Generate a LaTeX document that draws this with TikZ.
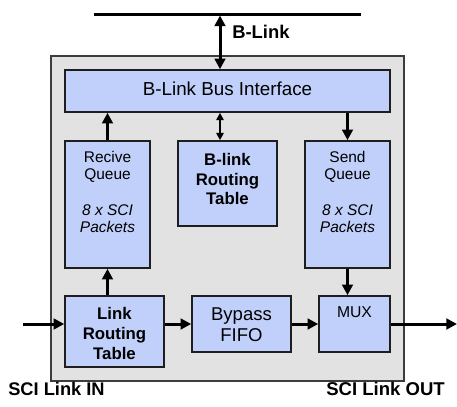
\documentclass[tikz,border=0pt]{standalone}
\usepackage{fontspec}
\setmainfont{Liberation Sans}
\usetikzlibrary{arrows.meta}
\definecolor{boxblue}{RGB}{192,208,250}
\definecolor{bggray}{RGB}{226,226,226}
\definecolor{edge}{RGB}{30,30,30}
\tikzset{
  blk/.style={draw=edge, line width=1.2pt, fill=boxblue, inner sep=0pt},
  txt/.style={inner sep=0pt, align=center},
  flow/.style={line width=2.25pt, -{Triangle[length=8pt,width=8pt]}},
  flowb/.style={line width=2.25pt, {Triangle[length=8pt,width=8pt]}-{Triangle[length=8pt,width=8pt]}},
  flows/.style={line width=1.6pt, {Triangle[length=5.5pt,width=5.5pt]}-{Triangle[length=5.5pt,width=5.5pt]}},
}
\newcommand{\fs}[2]{\fontsize{#1}{#2}\selectfont}
\begin{document}
\begin{tikzpicture}[x=0.75pt,y=-0.75pt]
\useasboundingbox (0,0) rectangle (457,407);
% outer panel
\node[draw={rgb,255:red,60;green,60;blue,60}, line width=0.8pt, fill=bggray, minimum width=353*0.75pt, minimum height=325*0.75pt, inner sep=0pt] (panel) at (227.5,218.5) {};
% top bus line
\coordinate (tl) at (94,14);
\coordinate (tr) at (361,14);
\draw[line width=2.25pt] (tl) -- (tr);
% blocks
\node[blk, minimum width=325*0.75pt, minimum height=42*0.75pt] (bus) at (227.5,91) {};
\node[txt, font=\fs{14.1}{16}] (bustxt) at (227.5,89) {B-Link Bus Interface};
\node[blk, minimum width=85*0.75pt, minimum height=127*0.75pt] (rq) at (107.5,204.5) {};
\node[txt, font=\fs{11.6}{12.9}] (rqtxt) at (107.5,192) {Recive\\Queue\\[14pt]\textit{8 x SCI}\\\textit{Packets}};
\node[blk, minimum width=99*0.75pt, minimum height=85*0.75pt] (brt) at (227.5,183.5) {};
\node[txt, font=\fs{12.6}{14.6}\bfseries] (brttxt) at (227.5,179) {B-link\\Routing\\Table};
\node[blk, minimum width=85*0.75pt, minimum height=127*0.75pt] (sq) at (347.5,204.5) {};
\node[txt, font=\fs{11.6}{12.9}] (sqtxt) at (347.5,192) {Send\\Queue\\[14pt]\textit{8 x SCI}\\\textit{Packets}};
\node[blk, minimum width=99*0.75pt, minimum height=71*0.75pt] (lrt) at (114.5,331.5) {};
\node[txt, font=\fs{12.6}{15}\bfseries] (lrttxt) at (114.5,333) {Link\\Routing\\Table};
\node[blk, minimum width=99*0.75pt, minimum height=56*0.75pt] (bp) at (241.5,324) {};
\node[txt, font=\fs{13.9}{15.8}] (bptxt) at (241.5,324.5) {Bypass\\FIFO};
\node[blk, minimum width=71*0.75pt, minimum height=56*0.75pt] (mux) at (354.5,324) {};
\node[txt, font=\fs{11.8}{13}] (muxtxt) at (354.5,312) {MUX};
% labels
\node[txt, anchor=west, font=\fs{13.8}{16}\bfseries] (bl) at (232,32) {B-Link};
\node[txt, anchor=west, font=\fs{13.7}{16}\bfseries] (inl) at (8,389) {SCI Link IN};
\node[txt, anchor=east, font=\fs{13.9}{16}\bfseries] (outl) at (445,389) {SCI Link OUT};
% connectors
\coordinate (ax) at (220,0);
\coordinate (top) at (220,15.5);
\draw[flowb] (top) -- (ax |- bus.north);
\draw[flows] (ax |- bus.south) -- (ax |- brt.north);
\draw[flow] (rq.north) -- (rq.north |- bus.south);
\draw[flow] (sq.north |- bus.south) -- (sq.north);
\draw[flow] (lrt.north -| rq.south) -- (rq.south);
\draw[flow] (sq.south) -- (sq.south |- mux.north);
\coordinate (inp) at (23,324);
\coordinate (outp) at (457,324);
\draw[flow] (inp) -- (inp -| lrt.west);
\draw[flow] (lrt.east |- bp.west) -- (bp.west);
\draw[flow] (bp.east) -- (mux.west);
\draw[flow] (mux.east) -- (outp);
\end{tikzpicture}
\end{document}
